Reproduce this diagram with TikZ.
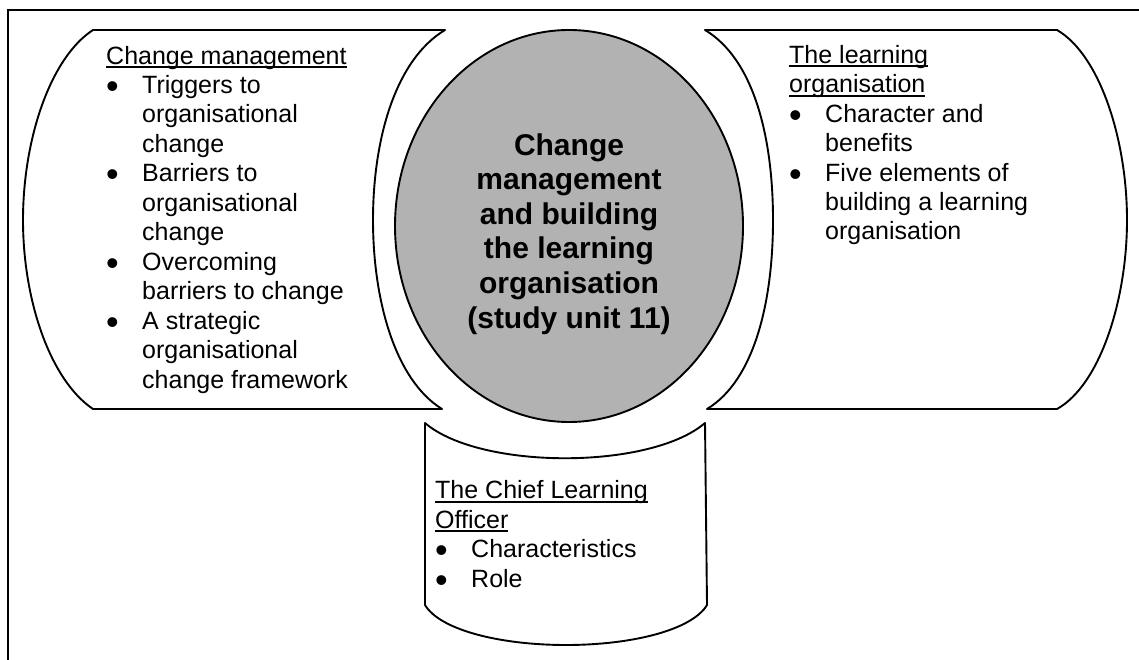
\documentclass[tikz,border=0pt]{standalone}
\usepackage{fontspec}
\usetikzlibrary{shapes.geometric}
\setmainfont{Liberation Sans}
\newcommand\myul[1]{\setbox0\hbox{#1}\rlap{\rule[-4pt]{\wd0}{2pt}}\box0}
\newcommand\mybul{\makebox[36pt][l]{\raisebox{-5pt}{\fontsize{36}{36}\selectfont\textbullet}}}
\newcommand\myind{\hspace*{36pt}}
\tikzset{
  shapeline/.style={draw=black, line width=1.9pt, line join=round},
  bodytext/.style={anchor=base west, align=left, inner sep=0pt, font=\fontsize{25}{29.45}\selectfont},
  centertext/.style={align=center, inner sep=0pt, font=\fontsize{30}{34.6}\selectfont\bfseries}
}
\begin{document}
\begin{tikzpicture}[x=1pt,y=-1pt]
\useasboundingbox (0,0) rectangle (1139,660);
% frame (cropped at right and bottom)
\draw[line width=2.5pt] (8,662) -- (8,10) -- (1141,10);
% left shape
\path[shapeline] (93,30) -- (445,30)
  .. controls (395,60) and (373,140) .. (373,220)
  .. controls (373,300) and (395,380) .. (442,409)
  -- (93,409)
  .. controls (50,380) and (23,300) .. (23,220)
  .. controls (23,140) and (50,58) .. cycle;
% right shape
\path[shapeline] (705,30) -- (1057,30)
  .. controls (1100,55) and (1127,140) .. (1127,220)
  .. controls (1127,300) and (1100,385) .. (1057,409)
  -- (707,409)
  .. controls (755,380) and (773,300) .. (773,220)
  .. controls (773,140) and (755,60) .. cycle;
% bottom shape
\path[shapeline] (425,423)
  .. controls (480,470) and (650,470) .. (705,423)
  -- (707,605)
  .. controls (692,630) and (632,645) .. (566,645)
  .. controls (500,645) and (440,630) .. (425,605) -- cycle;
% centre ellipse
\node[shapeline, fill=black!30, ellipse, minimum width=348pt, minimum height=392pt, inner sep=0pt] (hub) at (569,226) {};
\node[centertext, anchor=base] (hubtext) at (569,328) {Change\\management\\and building\\the learning\\organisation\\(study unit 11)};
% texts
\node[bodytext] (lefttext) at (106,388) {\myul{Change management}\\
\mybul Triggers to\\ \myind organisational\\ \myind change\\
\mybul Barriers to\\ \myind organisational\\ \myind change\\
\mybul Overcoming\\ \myind barriers to change\\
\mybul A strategic\\ \myind organisational\\ \myind change framework};
\node[bodytext] (righttext) at (789,240) {\myul{The learning}\\ \myul{organisation}\\
\mybul Character and\\ \myind benefits\\
\mybul Five elements of\\ \myind building a learning\\ \myind organisation};
\node[bodytext] (bottomtext) at (435,587) {\myul{The Chief Learning}\\ \myul{Officer}\\
\mybul Characteristics\\
\mybul Role};
\end{tikzpicture}
\end{document}
